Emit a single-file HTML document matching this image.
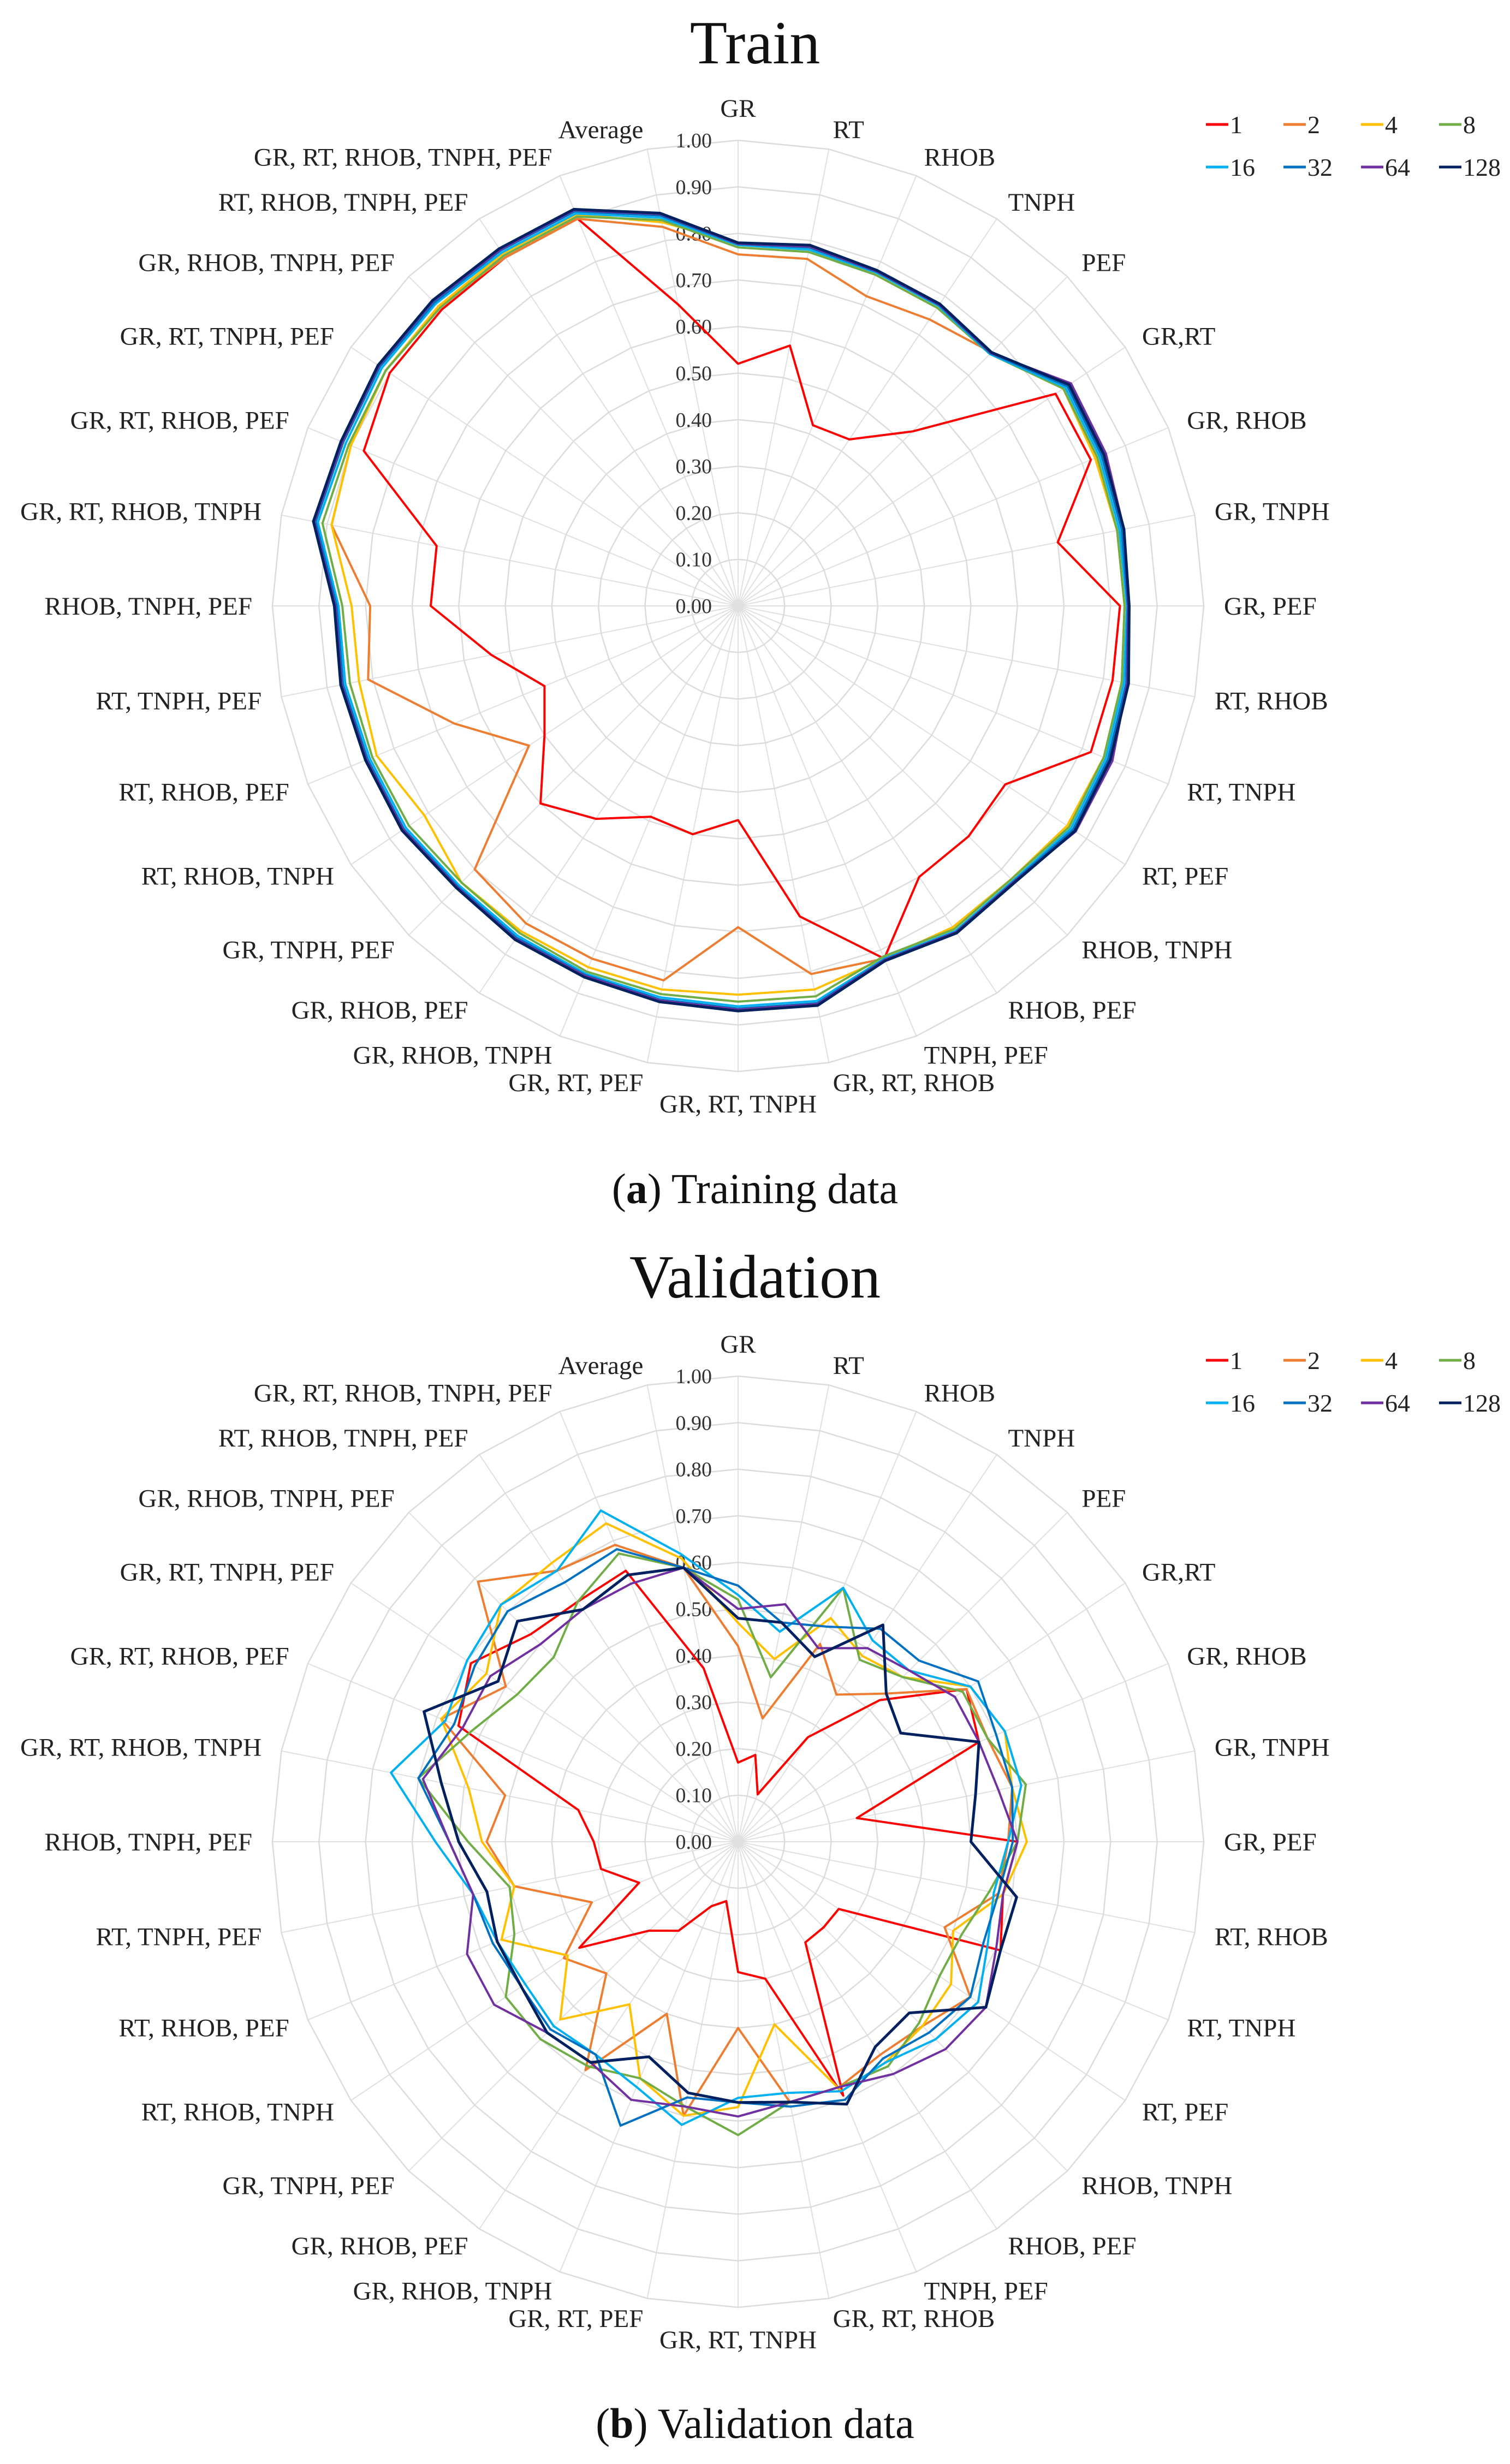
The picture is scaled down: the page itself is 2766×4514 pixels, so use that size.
<!DOCTYPE html>
<html><head><meta charset="utf-8">
<style>
html,body{margin:0;padding:0;background:#fff;}
svg{display:block;font-family:"Liberation Serif",serif;}
</style></head>
<body>
<svg id="root" width="2766" height="4514" viewBox="0 0 2766 4514" xmlns="http://www.w3.org/2000/svg">
<text x="1383" y="116" font-size="112" text-anchor="middle" fill="#111">Train</text>
<g id="chartA"></g>
<text x="1383" y="2204" font-size="78" text-anchor="middle" fill="#111">(<tspan font-weight="bold">a</tspan>) Training data</text>
<text x="1383" y="2377" font-size="112" text-anchor="middle" fill="#111">Validation</text>
<g id="chartB"></g>
<text x="1383" y="4466" font-size="78" text-anchor="middle" fill="#111">(<tspan font-weight="bold">b</tspan>) Validation data</text>
</svg>
<script>
const categories = ["GR","RT","RHOB","TNPH","PEF","GR,RT","GR, RHOB","GR, TNPH","GR, PEF","RT, RHOB","RT, TNPH","RT, PEF","RHOB, TNPH","RHOB, PEF","TNPH, PEF","GR, RT, RHOB","GR, RT, TNPH","GR, RT, PEF","GR, RHOB, TNPH","GR, RHOB, PEF","GR, TNPH, PEF","RT, RHOB, TNPH","RT, RHOB, PEF","RT, TNPH, PEF","RHOB, TNPH, PEF","GR, RT, RHOB, TNPH","GR, RT, RHOB, PEF","GR, RT, TNPH, PEF","GR, RHOB, TNPH, PEF","RT, RHOB, TNPH, PEF","GR, RT, RHOB, TNPH, PEF","Average"];
const seriesNames = ["1","2","4","8","16","32","64","128"];
const tickLabels = ["0.00","0.10","0.20","0.30","0.40","0.50","0.60","0.70","0.80","0.90","1.00"];
const tickValues = [0,0.1,0.2,0.3,0.4,0.5,0.6,0.7,0.8,0.9,1.0];

const trainS1 = [0.52,0.57,0.42,0.43,0.53,0.82,0.82,0.70,0.82,0.82,0.82,0.69,0.70,0.70,0.82,0.68,0.46,0.50,0.49,0.55,0.60,0.50,0.45,0.54,0.66,0.66,0.87,0.90,0.90,0.90,0.90,0.66];
const trainS2 = [0.755,0.76,0.72,0.74,0.77,0.84,0.83,0.83,0.83,0.84,0.85,0.85,0.83,0.83,0.82,0.806,0.69,0.82,0.82,0.82,0.80,0.54,0.66,0.81,0.79,0.89,0.90,0.91,0.91,0.90,0.90,0.83];
const trainS4 = [0.78,0.78,0.77,0.77,0.77,0.84,0.83,0.83,0.83,0.84,0.85,0.85,0.83,0.83,0.82,0.84,0.835,0.84,0.84,0.84,0.84,0.81,0.84,0.83,0.83,0.89,0.90,0.91,0.91,0.91,0.91,0.84];
const trainS8 = [0.77,0.775,0.77,0.77,0.765,0.84,0.835,0.83,0.83,0.84,0.85,0.855,0.83,0.835,0.815,0.855,0.85,0.85,0.85,0.845,0.84,0.85,0.85,0.85,0.85,0.91,0.905,0.91,0.905,0.905,0.905,0.845];
const trainS16 = [0.775,0.78,0.775,0.775,0.765,0.845,0.84,0.835,0.835,0.845,0.855,0.86,0.835,0.84,0.82,0.865,0.86,0.857,0.855,0.852,0.848,0.858,0.856,0.86,0.858,0.92,0.912,0.92,0.918,0.913,0.912,0.85];
const trainS32 = [0.777,0.785,0.777,0.777,0.767,0.85,0.845,0.84,0.837,0.85,0.86,0.865,0.837,0.842,0.822,0.87,0.865,0.862,0.858,0.857,0.852,0.863,0.861,0.865,0.862,0.925,0.918,0.925,0.922,0.918,0.917,0.855];
const trainS64 = [0.778,0.787,0.778,0.778,0.768,0.86,0.855,0.845,0.838,0.852,0.87,0.872,0.838,0.843,0.823,0.872,0.867,0.864,0.86,0.86,0.854,0.865,0.864,0.868,0.865,0.928,0.92,0.928,0.926,0.92,0.92,0.858];
const trainS128 = [0.78,0.79,0.78,0.78,0.77,0.855,0.85,0.845,0.84,0.855,0.865,0.87,0.84,0.845,0.825,0.875,0.87,0.867,0.863,0.862,0.856,0.868,0.866,0.87,0.867,0.93,0.923,0.93,0.928,0.923,0.922,0.86];

const valS1 = [0.17,0.19,0.11,0.27,0.43,0.59,0.56,0.26,0.60,0.58,0.61,0.26,0.26,0.26,0.59,0.30,0.28,0.13,0.15,0.23,0.27,0.41,0.23,0.30,0.31,0.35,0.65,0.69,0.63,0.62,0.63,0.38];
const valS2 = [0.42,0.27,0.46,0.38,0.45,0.59,0.58,0.60,0.58,0.57,0.48,0.60,0.56,0.55,0.57,0.57,0.40,0.60,0.40,0.59,0.40,0.45,0.34,0.49,0.54,0.51,0.69,0.60,0.79,0.70,0.69,0.60];
const valS4 = [0.47,0.40,0.52,0.48,0.50,0.60,0.62,0.60,0.62,0.58,0.50,0.55,0.56,0.57,0.58,0.40,0.57,0.60,0.55,0.42,0.54,0.44,0.55,0.49,0.55,0.59,0.69,0.65,0.72,0.72,0.74,0.62];
const valS8 = [0.52,0.36,0.59,0.47,0.50,0.58,0.58,0.63,0.60,0.55,0.52,0.52,0.55,0.58,0.57,0.57,0.63,0.58,0.55,0.58,0.60,0.60,0.52,0.50,0.58,0.70,0.62,0.57,0.56,0.62,0.67,0.60];
const valS16 = [0.53,0.46,0.59,0.52,0.52,0.60,0.62,0.62,0.58,0.56,0.58,0.62,0.60,0.57,0.58,0.55,0.55,0.62,0.57,0.55,0.56,0.55,0.56,0.58,0.65,0.76,0.68,0.70,0.72,0.70,0.77,0.63];
const valS32 = [0.55,0.48,0.50,0.55,0.55,0.62,0.60,0.60,0.59,0.57,0.57,0.60,0.58,0.56,0.60,0.58,0.56,0.56,0.66,0.55,0.57,0.56,0.57,0.58,0.62,0.70,0.66,0.68,0.70,0.67,0.68,0.60];
const valS64 = [0.50,0.52,0.45,0.50,0.52,0.56,0.56,0.57,0.60,0.58,0.60,0.64,0.63,0.60,0.57,0.57,0.59,0.58,0.60,0.57,0.58,0.63,0.63,0.58,0.62,0.69,0.64,0.64,0.60,0.60,0.60,0.60];
const valS128 = [0.48,0.48,0.43,0.56,0.45,0.42,0.56,0.52,0.50,0.61,0.61,0.64,0.52,0.53,0.61,0.57,0.56,0.55,0.50,0.57,0.58,0.56,0.56,0.55,0.60,0.65,0.73,0.62,0.67,0.60,0.62,0.60];

const colors = ["#ff0000","#ed7d31","#ffc000","#70ad47","#00b0f0","#0070c0","#7030a0","#002060"];
const NS = "http://www.w3.org/2000/svg";
const R = 853;
function mk(tag, attrs, parent){const e=document.createElementNS(NS,tag);for(const k in attrs)e.setAttribute(k,attrs[k]);parent.appendChild(e);return e;}
function ang(i){return i*2*Math.PI/categories.length;}
function px(cx,i,v){return cx+Math.sin(ang(i))*v*R;}
function py(cy,i,v){return cy-Math.cos(ang(i))*v*R;}

function drawChart(g, cx, cy, data, prefix, legendY){
  const n = categories.length;
  for(let i=0;i<n;i++){
    const l = mk("line",{x1:cx,y1:cy,x2:px(cx,i,1),y2:py(cy,i,1),stroke:"#e0e0e0","stroke-width":2},g);
    
    
  }
  for(let t=1;t<tickValues.length;t++){
    const pts=[];for(let i=0;i<n;i++)pts.push(px(cx,i,tickValues[t]).toFixed(1)+","+py(cy,i,tickValues[t]).toFixed(1));
    const p = mk("polygon",{points:pts.join(" "),fill:"none",stroke:"#dcdcdc","stroke-width":2.5},g);
    
    
  }
  for(let t=0;t<tickValues.length;t++){
    const tx = mk("text",{x:cx-48,y:cy-tickValues[t]*R+13,"font-size":38,"text-anchor":"end",fill:"#333"},g);
    tx.textContent = tickLabels[t];
    
    
  }
  for(let i=0;i<n;i++){
    const s=Math.sin(ang(i)), c=Math.cos(ang(i));
    const anchor = s>0.05?"start":(s<-0.05?"end":"middle");
    const rl = anchor==="middle" ? 912 : 890;
    const x = cx + s*rl, y = cy - c*rl + 16;
    const tx = mk("text",{x:x,y:y,"font-size":47,"text-anchor":anchor,fill:"#222"},g);
    tx.textContent = categories[i];
    
    
  }
  data.forEach((vals,si)=>{
    const pts=[];for(let i=0;i<n;i++)pts.push(px(cx,i,vals[i]).toFixed(1)+","+py(cy,i,vals[i]).toFixed(1));
    const p = mk("polygon",{points:pts.join(" "),fill:"none",stroke:colors[si],"stroke-width":si==7?5:4,"stroke-linejoin":"round"},g);
    
    
  });
  const colX=[2209,2351,2493,2636];
  seriesNames.forEach((nm,si)=>{
    const x = colX[si%4], y = legendY + Math.floor(si/4)*78;
    const grp = mk("g",{},g);
    
    
    mk("line",{x1:x,y1:y,x2:x+41,y2:y,stroke:colors[si],"stroke-width":5},grp);
    const tx = mk("text",{x:x+44,y:y+16,"font-size":46,fill:"#222"},grp);
    tx.textContent = nm;
  });
}
drawChart(document.getElementById("chartA"),1352,1110,[trainS1,trainS2,trainS4,trainS8,trainS16,trainS32,trainS64,trainS128],"train",228);
drawChart(document.getElementById("chartB"),1352,3374,[valS1,valS2,valS4,valS8,valS16,valS32,valS64,valS128],"validation",2492);
</script>
</body></html>
